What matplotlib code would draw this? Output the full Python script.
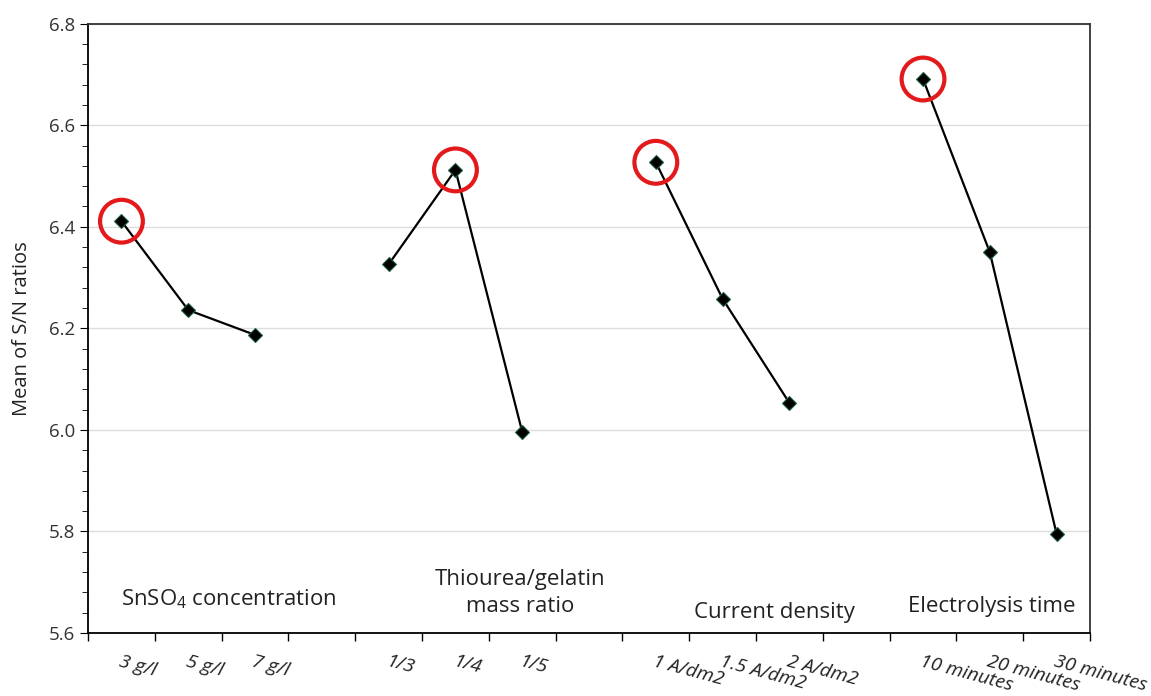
import matplotlib.pyplot as plt
from matplotlib.ticker import MultipleLocator, FixedLocator

plt.rcParams['font.family'] = ['Open Sans', 'DejaVu Sans']
plt.rcParams['mathtext.fontset'] = 'custom'
plt.rcParams['mathtext.rm'] = 'Open Sans'

# 15 category slots, an empty slot between factor groups
slot_labels = ["3 g/l", "5 g/l", "7 g/l", "",
               "1/3", "1/4", "1/5", "",
               "1 A/dm2", "1.5 A/dm2", "2 A/dm2", "",
               "10 minutes", "20 minutes", "30 minutes"]

group_slots = [[0, 1, 2], [4, 5, 6], [8, 9, 10], [12, 13, 14]]
snso4_sn = [6.411, 6.236, 6.187]
thiourea_sn = [6.326, 6.512, 5.996]
current_sn = [6.527, 6.258, 6.053]
time_sn = [6.691, 6.350, 5.795]
group_values = [snso4_sn, thiourea_sn, current_sn, time_sn]

group_names = ["SnSO$_4$ concentration", "Thiourea/gelatin\nmass ratio",
               "Current density", "Electrolysis time"]
name_x = [1.6, 5.97, 9.77, 13.03]
name_y = [5.643, 5.631, 5.619, 5.631]

fig = plt.figure(figsize=(11.51, 6.96), dpi=100)
ax = fig.add_axes([0.0765, 0.0905, 0.8705, 0.8755])

for slots, vals in zip(group_slots, group_values):
    ax.plot(slots, vals, color="black", linewidth=1.6, zorder=3)
    ax.plot(slots, vals, linestyle="none", marker="D", markersize=7,
            markerfacecolor="black", markeredgecolor="#1d5c3a",
            markeredgewidth=0.8, zorder=4)
    # circle the best level of each factor
    best = vals.index(max(vals))
    ax.scatter([slots[best]], [vals[best]], s=950, facecolors="none",
               edgecolors="#e3191b", linewidths=3.0, zorder=5)

for name, x, y in zip(group_names, name_x, name_y):
    ax.text(x, y, name, ha="center", va="bottom", fontsize=16,
            color="#222222", linespacing=1.4)

ax.set_xlim(-0.5, 14.5)
ax.set_ylim(5.6, 6.8)
ax.yaxis.set_major_locator(MultipleLocator(0.2))
ax.yaxis.set_minor_locator(MultipleLocator(0.04))
ax.yaxis.set_major_formatter(plt.FuncFormatter(lambda v, p: f"{v:.1f}"))
ax.grid(axis="y", color="#dddddd", linewidth=1)
ax.set_axisbelow(True)

# ticks between categories, labels at category centres
ax.xaxis.set_major_locator(FixedLocator([i - 0.5 for i in range(16)]))
ax.set_xticklabels([])
ax.set_xticks(range(15), minor=True)
ax.set_xticklabels(slot_labels, minor=True, rotation=-15, ha="left",
                   va="top", rotation_mode="anchor", fontsize=14,
                   style="italic", color="#222222")
ax.tick_params(axis="x", which="minor", length=0, pad=14)
ax.tick_params(axis="x", which="major", length=6, width=1, direction="out")
ax.tick_params(axis="y", which="major", length=6, labelsize=13.5,
               labelcolor="#333333")
ax.tick_params(axis="y", which="minor", length=4)

for side in ["left", "bottom"]:
    ax.spines[side].set_color("black")
    ax.spines[side].set_linewidth(1.3)
for side in ["top", "right"]:
    ax.spines[side].set_color("#333333")
    ax.spines[side].set_linewidth(1.3)

ax.set_ylabel("Mean of S/N ratios", fontsize=14.5, color="#222222", labelpad=12)

fig.savefig("out.png", dpi=100)
